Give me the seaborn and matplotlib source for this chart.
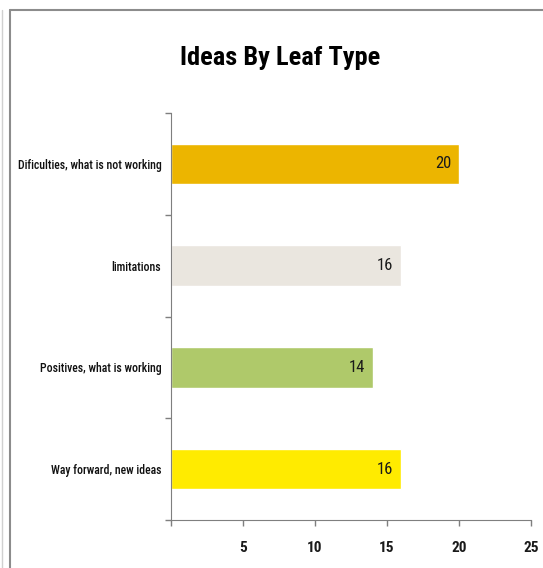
import matplotlib
matplotlib.use("Agg")
import matplotlib.pyplot as plt
import seaborn as sns
import pandas as pd
from matplotlib.lines import Line2D

categorias = ["Dificulties, what is not working", "limitations",
              "Positives, what is working", "Way forward, new ideas"]
valores = [20, 16, 14, 16]
cores = ["#ECB500", "#EAE6DF", "#AFC96A", "#FFEB00"]
x_ticks = [0, 5, 10, 15, 20, 25]
x_labels = ["", "5", "10", "15", "20", "25"]

df = pd.DataFrame({"tipo": categorias, "ideias": valores})

sns.set_style("white")
plt.rcParams["font.family"] = ["Roboto Condensed", "DejaVu Sans"]

fig = plt.figure(figsize=(5.43, 5.68), dpi=100)
fig.patch.set_facecolor("white")
ax = fig.add_axes([171 / 543, 1 - 520 / 568, 360 / 543, 407 / 568])

sns.barplot(data=df, y="tipo", x="ideias", hue="tipo", palette=cores,
            width=0.4, saturation=1, legend=False, ax=ax)

# Rótulos de valor dentro das barras
for i, v in enumerate(valores):
    ax.text(v - 0.55, i, str(v), ha="right", va="center", fontsize=12,
            color="#1a1a1a")

ax.set_xlim(0, 25)
ax.set_ylim(3.5, -0.5)
ax.set_xticks(x_ticks)
ax.set_xticklabels(x_labels, fontsize=11, fontweight="bold", color="#1a1a1a")

# Marcas do eixo y entre as categorias, rótulos no centro
ax.set_yticks([-0.5, 0.5, 1.5, 2.5, 3.5])
ax.set_yticklabels([])
ax.set_yticks(range(len(categorias)), minor=True)
ax.set_yticklabels(categorias, minor=True, fontsize=8.5, color="#111111",
                   fontweight="medium")
ax.tick_params(axis="y", which="minor", left=False, length=0, pad=7)
ax.tick_params(axis="both", which="major", direction="out", length=4,
               color="#7f7f7f", width=1, bottom=True, left=True)
ax.tick_params(axis="x", which="major", pad=11)

ax.set_xlabel("")
ax.set_ylabel("")
ax.spines["top"].set_visible(False)
ax.spines["right"].set_visible(False)
ax.spines["left"].set_color("#7f7f7f")
ax.spines["bottom"].set_color("#7f7f7f")
ax.grid(False)

fig.text(280 / 543, 1 - 58 / 568, "Ideas By Leaf Type", ha="center", va="center",
         fontsize=19, fontweight="bold", color="black")

# Moldura do gráfico
fig.add_artist(Line2D([9.5 / 543, 9.5 / 543], [0, 1 - 10 / 568],
                      color="#8c8c8c", lw=1.5))
fig.add_artist(Line2D([9.5 / 543, 1], [1 - 10 / 568, 1 - 10 / 568],
                      color="#8c8c8c", lw=1.5))
fig.add_artist(Line2D([1.5 / 543, 1.5 / 543], [0, 1 - 10 / 568],
                      color="#d0d0d0", lw=1))

fig.savefig("out.png", dpi=100)
